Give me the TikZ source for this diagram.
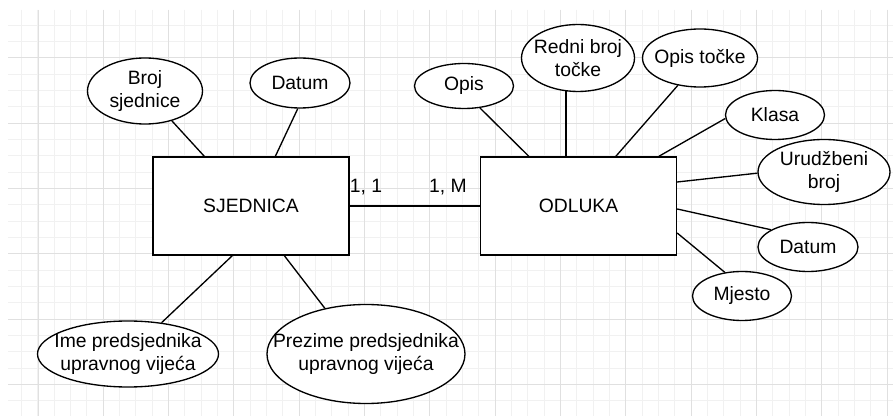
\documentclass[tikz,border=0pt]{standalone}
\usepackage{fontspec}
\setmainfont{Liberation Sans}
\usetikzlibrary{shapes.geometric}
\definecolor{gridminor}{HTML}{F1F1F1}
\definecolor{gridmajor}{HTML}{E0E0E0}
\begin{document}
\begin{tikzpicture}[x=0.75pt,y=-0.75pt,
  every node/.style={font=\fontsize{14.5}{17.6}\selectfont},
  entity/.style={draw, line width=1pt, fill=white, rectangle, inner sep=0pt,
                 minimum width=147pt, minimum height=73.5pt},
  attr/.style={draw, line width=1pt, fill=white, ellipse, inner sep=0pt},
  txt/.style={align=center, inner sep=0pt},
  conn/.style={line width=1pt}]
\useasboundingbox (0,0) rectangle (893,416);
\fill[white] (0,0) rectangle (893,416);
% grid
\begin{scope}
\clip (8,10) rectangle (893,416);
\foreach \i in {0,...,55} \draw[gridminor, line width=0.75pt] ({5.33+16.333*\i},10) -- ++(0,406);
\foreach \i in {0,...,25} \draw[gridminor, line width=0.75pt] (8,{9+16.333*\i}) -- ++(885,0);
\foreach \i in {0,...,13} \draw[gridmajor, line width=0.75pt] ({38+65.33*\i},10) -- ++(0,406);
\foreach \i in {0,...,5} \draw[gridmajor, line width=0.75pt] (8,{58+65.33*\i}) -- ++(885,0);
\end{scope}

% entities
\node[entity] (sj) at (251,206) {};
\node[txt] (sjt) at (sj.center) {SJEDNICA};
\node[entity] (od) at (578.5,206) {};
\node[txt] (odt) at (od.center) {ODLUKA};

% attributes
\node[attr, minimum width=86.25pt, minimum height=49.5pt] (broj) at (145,91) {};
\node[txt] (brojt) at (broj.center) {Broj\\sjednice};
\node[attr, minimum width=75pt, minimum height=37.5pt] (datl) at (300,83) {};
\node[txt] (datlt) at (datl.center) {Datum};
\node[attr, minimum width=74.25pt, minimum height=33.75pt] (opis) at (464,86) {};
\node[txt] (opist) at (opis.center) {Opis};
\node[attr, minimum width=84.75pt, minimum height=50.25pt] (redni) at (578,58) {};
\node[txt] (rednit) at (redni.center) {Redni broj\\točke};
\node[attr, minimum width=86.25pt, minimum height=43.5pt] (opt) at (700,58) {};
\node[txt] (optt) at (opt.center) {Opis točke};
\node[attr, minimum width=74.25pt, minimum height=36.75pt] (klasa) at (775,115) {};
\node[txt] (klasat) at (klasa.center) {Klasa};
\node[attr, minimum width=99pt, minimum height=48.75pt] (urud) at (824,172) {};
\node[txt] (urudt) at (urud.center) {Urudžbeni\\broj};
\node[attr, minimum width=75pt, minimum height=36.75pt] (datr) at (808,247) {};
\node[txt] (datrt) at (datr.center) {Datum};
\node[attr, minimum width=74.25pt, minimum height=36.75pt] (mj) at (742,296) {};
\node[txt] (mjt) at (mj.center) {Mjesto};
\node[attr, minimum width=135.75pt, minimum height=49.5pt] (ime) at (128,354) {};
\node[txt] (imet) at (ime.center) {Ime predsjednika\\upravnog vijeća};
\node[attr, minimum width=148.5pt, minimum height=74.25pt] (prez) at (366,354) {};
\node[txt] (prezt) at (prez.center) {Prezime predsjednika\\upravnog vijeća};

% connectors
\draw[conn] (sj.east) -- (od.west);
\node[txt] (c1) at (366,187.5) {1, 1};
\node[txt] (c2) at (448,187.5) {1, M};

\draw[conn] (broj.-48) -- ([xshift=39pt]sj.north west);
\draw[conn] (datl.-95) -- ([xshift=92.25pt]sj.north west);
\draw[conn] (ime.43) -- ([xshift=60pt]sj.south west);
\draw[conn] (prez.132) -- ([xshift=99pt]sj.south west);

\draw[conn] (opis.-54) -- ([xshift=36.75pt]od.north west);
\draw[conn] (redni.-110) -- (redni.-110 |- od.north);
\draw[conn] (opt.-129) -- ([xshift=102pt]od.north west);
\draw[conn] (klasa.-176) -- ([xshift=134.25pt]od.north west);
\draw[conn] (urud.-179) -- ([yshift=18pt]od.east);
\draw[conn] (datr.155) -- ([yshift=-2.25pt]od.east);
\draw[conn] (mj.126) -- ([yshift=-20.25pt]od.east);
\end{tikzpicture}
\end{document}
